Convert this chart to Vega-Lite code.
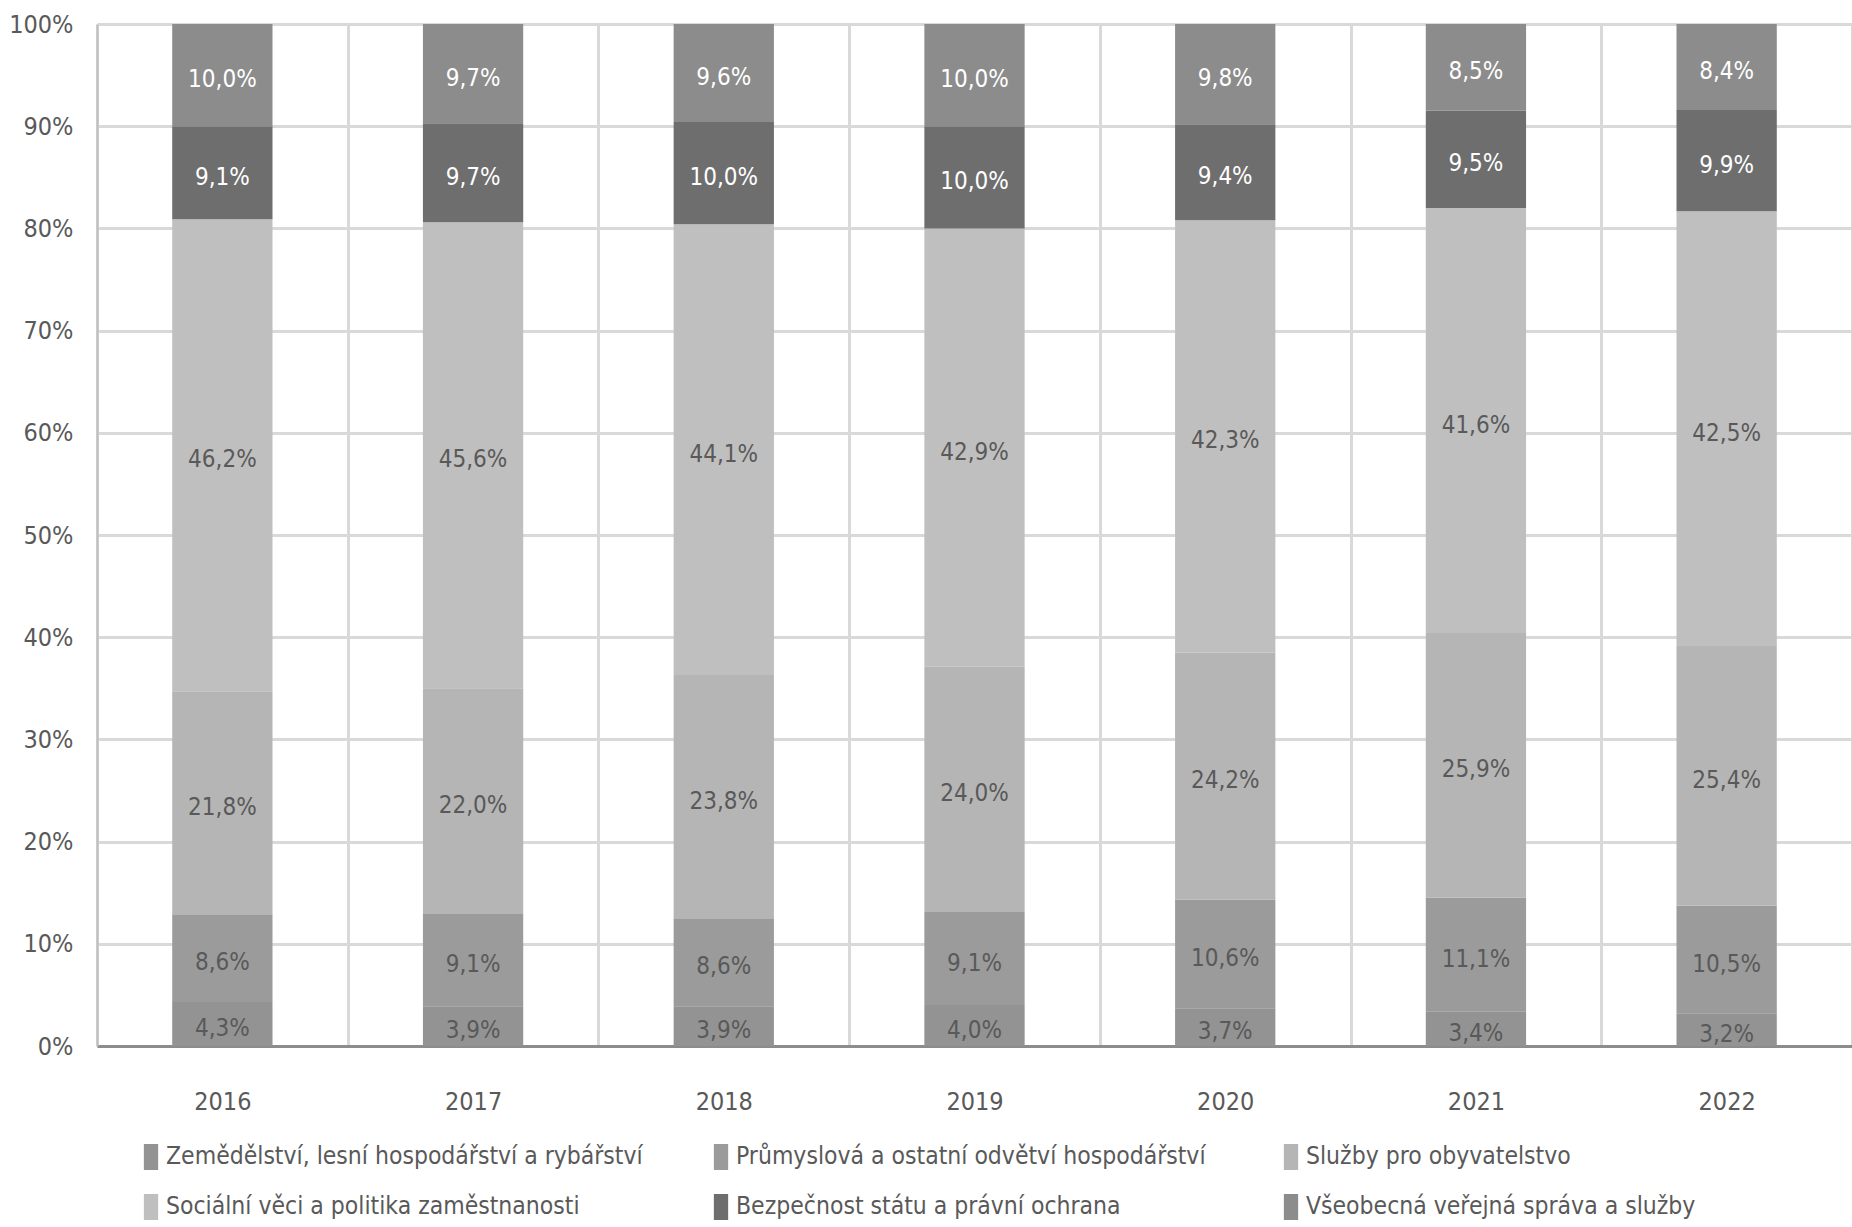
{
  "$schema": "https://vega.github.io/schema/vega-lite/v6.json",
  "width": 1755,
  "height": 1022,
  "autosize": {"type": "none"},
  "padding": {"left": 97, "top": 24, "right": 0, "bottom": 181},
  "background": "white",
  "config": {
    "locale": {"number": {"decimal": ",", "thousands": " ", "grouping": [3], "currency": ["", " Kč"]}},
    "font": "Liberation Sans Narrow, DejaVu Sans Condensed, sans-serif",
    "view": {"stroke": null}
  },
  "data": {
    "values": [
      {"rok": "2016", "kategorie": "Zemědělství, lesní hospodářství a rybářství", "poradi": 1, "podil": 0.043},
      {"rok": "2016", "kategorie": "Průmyslová a ostatní odvětví hospodářství", "poradi": 2, "podil": 0.086},
      {"rok": "2016", "kategorie": "Služby pro obyvatelstvo", "poradi": 3, "podil": 0.218},
      {"rok": "2016", "kategorie": "Sociální věci a politika zaměstnanosti", "poradi": 4, "podil": 0.462},
      {"rok": "2016", "kategorie": "Bezpečnost státu a právní ochrana", "poradi": 5, "podil": 0.091},
      {"rok": "2016", "kategorie": "Všeobecná veřejná správa a služby", "poradi": 6, "podil": 0.100},
      {"rok": "2017", "kategorie": "Zemědělství, lesní hospodářství a rybářství", "poradi": 1, "podil": 0.039},
      {"rok": "2017", "kategorie": "Průmyslová a ostatní odvětví hospodářství", "poradi": 2, "podil": 0.091},
      {"rok": "2017", "kategorie": "Služby pro obyvatelstvo", "poradi": 3, "podil": 0.220},
      {"rok": "2017", "kategorie": "Sociální věci a politika zaměstnanosti", "poradi": 4, "podil": 0.456},
      {"rok": "2017", "kategorie": "Bezpečnost státu a právní ochrana", "poradi": 5, "podil": 0.097},
      {"rok": "2017", "kategorie": "Všeobecná veřejná správa a služby", "poradi": 6, "podil": 0.097},
      {"rok": "2018", "kategorie": "Zemědělství, lesní hospodářství a rybářství", "poradi": 1, "podil": 0.039},
      {"rok": "2018", "kategorie": "Průmyslová a ostatní odvětví hospodářství", "poradi": 2, "podil": 0.086},
      {"rok": "2018", "kategorie": "Služby pro obyvatelstvo", "poradi": 3, "podil": 0.238},
      {"rok": "2018", "kategorie": "Sociální věci a politika zaměstnanosti", "poradi": 4, "podil": 0.441},
      {"rok": "2018", "kategorie": "Bezpečnost státu a právní ochrana", "poradi": 5, "podil": 0.100},
      {"rok": "2018", "kategorie": "Všeobecná veřejná správa a služby", "poradi": 6, "podil": 0.096},
      {"rok": "2019", "kategorie": "Zemědělství, lesní hospodářství a rybářství", "poradi": 1, "podil": 0.040},
      {"rok": "2019", "kategorie": "Průmyslová a ostatní odvětví hospodářství", "poradi": 2, "podil": 0.091},
      {"rok": "2019", "kategorie": "Služby pro obyvatelstvo", "poradi": 3, "podil": 0.240},
      {"rok": "2019", "kategorie": "Sociální věci a politika zaměstnanosti", "poradi": 4, "podil": 0.429},
      {"rok": "2019", "kategorie": "Bezpečnost státu a právní ochrana", "poradi": 5, "podil": 0.100},
      {"rok": "2019", "kategorie": "Všeobecná veřejná správa a služby", "poradi": 6, "podil": 0.100},
      {"rok": "2020", "kategorie": "Zemědělství, lesní hospodářství a rybářství", "poradi": 1, "podil": 0.037},
      {"rok": "2020", "kategorie": "Průmyslová a ostatní odvětví hospodářství", "poradi": 2, "podil": 0.106},
      {"rok": "2020", "kategorie": "Služby pro obyvatelstvo", "poradi": 3, "podil": 0.242},
      {"rok": "2020", "kategorie": "Sociální věci a politika zaměstnanosti", "poradi": 4, "podil": 0.423},
      {"rok": "2020", "kategorie": "Bezpečnost státu a právní ochrana", "poradi": 5, "podil": 0.094},
      {"rok": "2020", "kategorie": "Všeobecná veřejná správa a služby", "poradi": 6, "podil": 0.098},
      {"rok": "2021", "kategorie": "Zemědělství, lesní hospodářství a rybářství", "poradi": 1, "podil": 0.034},
      {"rok": "2021", "kategorie": "Průmyslová a ostatní odvětví hospodářství", "poradi": 2, "podil": 0.111},
      {"rok": "2021", "kategorie": "Služby pro obyvatelstvo", "poradi": 3, "podil": 0.259},
      {"rok": "2021", "kategorie": "Sociální věci a politika zaměstnanosti", "poradi": 4, "podil": 0.416},
      {"rok": "2021", "kategorie": "Bezpečnost státu a právní ochrana", "poradi": 5, "podil": 0.095},
      {"rok": "2021", "kategorie": "Všeobecná veřejná správa a služby", "poradi": 6, "podil": 0.085},
      {"rok": "2022", "kategorie": "Zemědělství, lesní hospodářství a rybářství", "poradi": 1, "podil": 0.032},
      {"rok": "2022", "kategorie": "Průmyslová a ostatní odvětví hospodářství", "poradi": 2, "podil": 0.105},
      {"rok": "2022", "kategorie": "Služby pro obyvatelstvo", "poradi": 3, "podil": 0.254},
      {"rok": "2022", "kategorie": "Sociální věci a politika zaměstnanosti", "poradi": 4, "podil": 0.425},
      {"rok": "2022", "kategorie": "Bezpečnost státu a právní ochrana", "poradi": 5, "podil": 0.099},
      {"rok": "2022", "kategorie": "Všeobecná veřejná správa a služby", "poradi": 6, "podil": 0.084}
    ]
  },
  "encoding": {
    "x": {
      "field": "rok",
      "type": "ordinal",
      "scale": {"paddingInner": 0, "paddingOuter": 0},
      "axis": {
        "title": null,
        "labelAngle": 0,
        "labelFontSize": 25,
        "labelColor": "#595959",
        "labelPadding": 43,
        "ticks": false,
        "domainColor": "#8c8c8c",
        "domainWidth": 3,
        "grid": true,
        "gridColor": "#d9d9d9",
        "gridWidth": 3,
        "tickBand": "extent"
      }
    }
  },
  "layer": [
    {
      "mark": {"type": "bar", "width": {"band": 0.4}},
      "encoding": {
        "y": {
          "field": "podil",
          "type": "quantitative",
          "stack": "normalize",
          "scale": {"domain": [0, 1]},
          "axis": {
            "title": null,
            "values": [0, 0.1, 0.2, 0.3, 0.4, 0.5, 0.6, 0.7, 0.8, 0.9, 1],
            "format": ".0%",
            "labelFontSize": 25,
            "labelColor": "#595959",
            "labelPadding": 24,
            "ticks": false,
            "grid": true,
            "gridColor": "#d9d9d9",
            "gridWidth": 3,
            "domain": true,
            "domainColor": "#bfbfbf",
            "domainWidth": 2
          }
        },
        "color": {
          "field": "kategorie",
          "type": "nominal",
          "scale": {
            "domain": [
              "Zemědělství, lesní hospodářství a rybářství",
              "Průmyslová a ostatní odvětví hospodářství",
              "Služby pro obyvatelstvo",
              "Sociální věci a politika zaměstnanosti",
              "Bezpečnost státu a právní ochrana",
              "Všeobecná veřejná správa a služby"
            ],
            "range": ["#939393", "#9b9b9b", "#b5b5b5", "#bfbfbf", "#6e6e6e", "#8c8c8c"]
          },
          "legend": {
            "title": null,
            "orient": "none",
            "legendX": 41,
            "legendY": 1120,
            "direction": "horizontal",
            "columns": 3,
            "gridAlign": "all",
            "columnPadding": 65,
            "rowPadding": 24,
            "symbolType": "M-0.55,-1H0.55V1H-0.55Z",
            "symbolSize": 676,
            "symbolStrokeWidth": 0,
            "labelFontSize": 24.5,
            "labelColor": "#595959",
            "labelOffset": 2,
            "labelLimit": 800
          }
        },
        "order": {"field": "poradi", "type": "quantitative"}
      }
    },
    {
      "transform": [
        {"stack": "podil", "groupby": ["rok"], "sort": [{"field": "poradi", "order": "ascending"}], "as": ["y0", "y1"], "offset": "normalize"},
        {"fold": ["y0", "y1"], "as": ["kraj", "pozice"]}
      ],
      "mark": {"type": "text", "fontSize": 24, "baseline": "middle", "align": "center", "dy": 5},
      "encoding": {
        "y": {"aggregate": "mean", "field": "pozice", "type": "quantitative"},
        "detail": {"field": "kategorie", "type": "nominal"},
        "text": {"aggregate": "max", "field": "podil", "type": "quantitative", "format": ".1%"},
        "color": {
          "condition": {
            "test": "datum.kategorie == 'Bezpečnost státu a právní ochrana' || datum.kategorie == 'Všeobecná veřejná správa a služby'",
            "value": "#ffffff"
          },
          "value": "#595959"
        }
      }
    }
  ]
}
